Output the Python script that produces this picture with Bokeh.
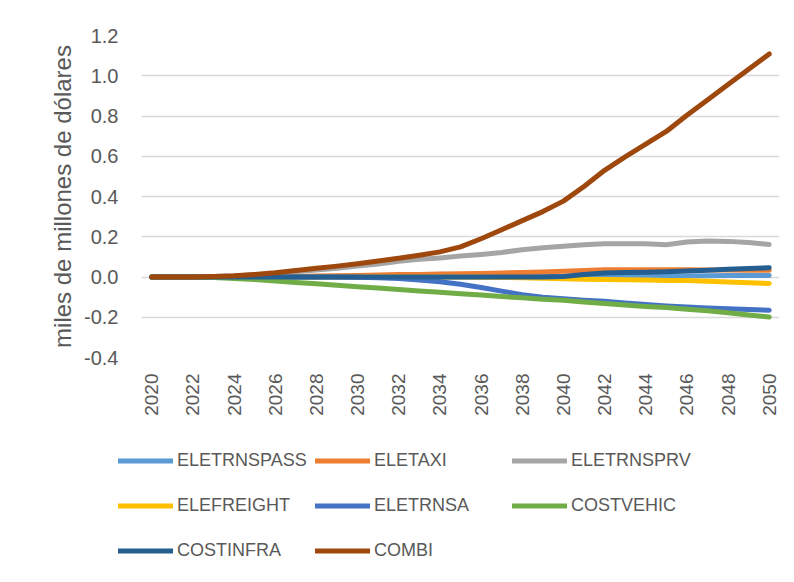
from math import pi
from bokeh.plotting import figure
from bokeh.layouts import column
from bokeh.models import Legend, LegendItem, FixedTicker, NumeralTickFormatter, Range1d
from bokeh.embed import file_html
from bokeh.resources import INLINE

years = list(range(2020, 2051))

ELETRNSPASS = [0, 0, 0, 0, 0, 0, 0, 0, 0, 0, 0, 0, 0, 0, 0, 0, 0, 0.001, 0.001, 0.002, 0.002,
               0.003, 0.003, 0.004, 0.004, 0.005, 0.005, 0.006, 0.007, 0.007, 0.008]
ELETAXI = [0, 0, 0, 0, 0.001, 0.001, 0.002, 0.003, 0.005, 0.006, 0.008, 0.01, 0.012, 0.013, 0.015,
           0.016, 0.018, 0.02, 0.022, 0.025, 0.028, 0.032, 0.036, 0.036, 0.036, 0.036, 0.036,
           0.035, 0.035, 0.034, 0.033]
ELETRNSPRV = [0, 0, 0, 0.002, 0.005, 0.011, 0.018, 0.026, 0.035, 0.044, 0.055, 0.065, 0.078,
              0.088, 0.095, 0.104, 0.112, 0.122, 0.135, 0.145, 0.153, 0.16, 0.165, 0.165, 0.165,
              0.16, 0.174, 0.179, 0.177, 0.171, 0.162]
ELEFREIGHT = [0, 0, 0, 0, 0, 0, 0, 0, 0, 0, 0, 0, 0, 0, 0, 0, -0.001, -0.002, -0.004, -0.006,
              -0.009, -0.011, -0.012, -0.014, -0.015, -0.017, -0.018, -0.021, -0.025, -0.029, -0.032]
ELETRNSA = [0, 0, 0, 0, 0, 0, 0, 0, 0, 0, -0.001, -0.004, -0.008, -0.015, -0.024, -0.036, -0.052,
            -0.07, -0.088, -0.1, -0.108, -0.115, -0.121, -0.129, -0.137, -0.144, -0.149, -0.154,
            -0.158, -0.162, -0.165]
COSTVEHIC = [0, 0, 0, -0.003, -0.007, -0.012, -0.02, -0.027, -0.034, -0.041, -0.048, -0.055,
             -0.062, -0.069, -0.076, -0.083, -0.09, -0.097, -0.103, -0.11, -0.116, -0.124, -0.132,
             -0.139, -0.146, -0.152, -0.16, -0.168, -0.178, -0.189, -0.199]
COSTINFRA = [0, 0, 0, 0, 0, 0, 0, 0, 0, 0, 0, 0, 0, 0, 0, 0, 0, 0, 0, 0, 0.003, 0.012, 0.02,
             0.022, 0.024, 0.026, 0.03, 0.034, 0.038, 0.042, 0.046]
COMBI = [0, 0, 0, 0.002, 0.006, 0.013, 0.021, 0.032, 0.043, 0.054, 0.066, 0.079, 0.093, 0.108,
         0.125, 0.15, 0.19, 0.235, 0.28, 0.325, 0.377, 0.45, 0.53, 0.597, 0.66, 0.723, 0.804,
         0.88, 0.956, 1.032, 1.108]

series_names = ["ELETRNSPASS", "ELETAXI", "ELETRNSPRV", "ELEFREIGHT", "ELETRNSA",
                "COSTVEHIC", "COSTINFRA", "COMBI"]
series_values = [ELETRNSPASS, ELETAXI, ELETRNSPRV, ELEFREIGHT, ELETRNSA,
                 COSTVEHIC, COSTINFRA, COMBI]
colors = ["#5B9BD5", "#ED7D31", "#A5A5A5", "#FFC000", "#4472C4", "#70AD47", "#255E91", "#9E480E"]

y_ticks = [-0.4, -0.2, 0.0, 0.2, 0.4, 0.6, 0.8, 1.0, 1.2]
x_ticks = list(range(2020, 2051, 2))
y_title = "miles de millones de dólares"

FONT = "Liberation Sans"
TXT = "#595959"

p = figure(width=786, height=430, output_backend="svg", toolbar_location=None,
           x_range=Range1d(2019.5, 2050.5), y_range=Range1d(-0.4, 1.2),
           min_border_left=141, min_border_right=7, min_border_top=35, min_border_bottom=73)
p.outline_line_color = None
p.background_fill_color = "white"
p.border_fill_color = "white"
p.frame_align = False

p.xgrid.grid_line_color = None
p.ygrid.grid_line_color = "#d9d9d9"
p.ygrid.grid_line_width = 1.5
p.ygrid.ticker = FixedTicker(ticks=y_ticks)

p.yaxis.ticker = FixedTicker(ticks=y_ticks)
p.yaxis.formatter = NumeralTickFormatter(format="0.0")
p.yaxis.axis_line_color = None
p.yaxis.major_tick_line_color = None
p.yaxis.minor_tick_line_color = None
p.yaxis.major_tick_out = 0
p.yaxis.major_label_standoff = 23
p.yaxis.major_label_text_font = FONT
p.yaxis.major_label_text_font_size = "20px"
p.yaxis.major_label_text_color = TXT
p.yaxis.axis_label = y_title
p.yaxis.axis_label_text_font = FONT
p.yaxis.axis_label_text_font_size = "24px"
p.yaxis.axis_label_text_font_style = "normal"
p.yaxis.axis_label_text_color = TXT
p.yaxis.axis_label_standoff = 5

p.xaxis.ticker = FixedTicker(ticks=x_ticks)
p.xaxis.axis_line_color = None
p.xaxis.major_tick_line_color = None
p.xaxis.minor_tick_line_color = None
p.xaxis.major_tick_out = 0
p.xaxis.major_label_standoff = 16
p.xaxis.major_label_orientation = pi / 2
p.xaxis.major_label_text_font = FONT
p.xaxis.major_label_text_font_size = "19px"
p.xaxis.major_label_text_color = TXT

for vals, col in zip(series_values, colors):
    p.line(years, vals, line_color=col, line_width=5, line_cap="round", line_join="round")

# legend panel below the chart: same series, drawn outside its visible range
pl = figure(width=786, height=144, output_backend="svg", toolbar_location=None,
            x_axis_type=None, y_axis_type=None, x_range=Range1d(0, 1), y_range=Range1d(0, 1),
            min_border_left=0, min_border_right=0, min_border_top=0, min_border_bottom=0)
pl.outline_line_color = None
pl.grid.grid_line_color = None
pl.border_fill_color = "white"
pl.frame_align = False

items = []
for name, vals, col in zip(series_names, series_values, colors):
    r = pl.line(years, vals, line_color=col, line_width=5, line_cap="round")
    items.append(LegendItem(label=name, renderers=[r]))

legend = Legend(items=items, location=(118, 1), orientation="horizontal", ncols=3,
                glyph_width=55, glyph_height=45, label_height=45, label_width=138,
                label_standoff=4, spacing=0, padding=0, margin=0,
                border_line_color=None, background_fill_alpha=0,
                label_text_font=FONT, label_text_font_size="18px", label_text_color=TXT)
pl.add_layout(legend, "center")

layout = column(p, pl, spacing=0)
open("out.html", "w").write(file_html(layout, INLINE))
